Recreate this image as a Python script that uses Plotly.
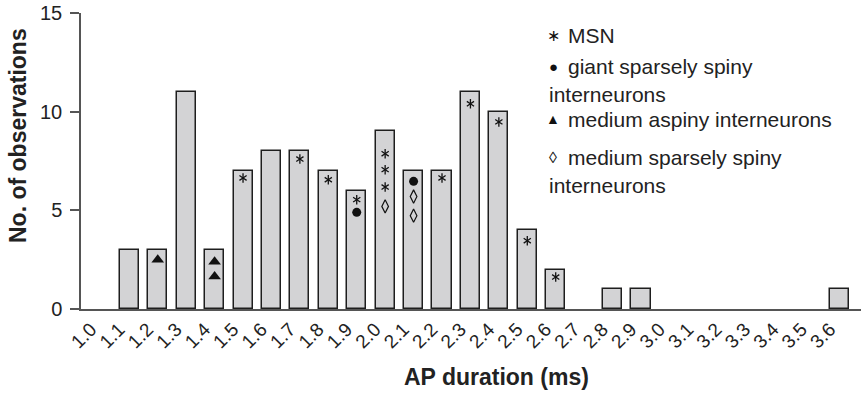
import plotly.graph_objects as go

# ---- data ----
categories = ["1.0", "1.1", "1.2", "1.3", "1.4", "1.5", "1.6", "1.7", "1.8", "1.9",
              "2.0", "2.1", "2.2", "2.3", "2.4", "2.5", "2.6", "2.7", "2.8", "2.9",
              "3.0", "3.1", "3.2", "3.3", "3.4", "3.5", "3.6"]
counts = [0, 3, 3, 11, 3, 7, 8, 8, 7, 6,
          9, 7, 7, 11, 10, 4, 2, 0, 1, 1,
          0, 0, 0, 0, 0, 0, 1]

# cell-type symbols drawn inside bars: (category, height in observations)
msn_cat = ["1.5", "1.7", "1.8", "1.9", "2.0", "2.0", "2.0", "2.2", "2.3", "2.4", "2.5", "2.6"]
msn_y = [6.64, 7.6, 6.55, 5.54, 7.87, 7.06, 6.18, 6.64, 10.4, 9.48, 3.46, 1.62]
giant_cat = ["1.9", "2.1"]
giant_y = [4.9, 6.47]
aspiny_cat = ["1.2", "1.4", "1.4"]
aspiny_y = [2.5, 2.4, 1.65]
sparse_cat = ["2.0", "2.1", "2.1"]
sparse_y = [5.2, 5.7, 4.73]

y_ticks = [0, 5, 10, 15]
x_title = "AP duration (ms)"
y_title = "No. of observations"
legend_lines = [
    ("\u2217", "MSN"),
    ("\u25CF", "giant sparsely spiny"),
    ("", "interneurons"),
    ("\u25B2", "medium aspiny interneurons"),
    ("\u25CA", "medium sparsely spiny"),
    ("", "interneurons"),
]

# ---- build ----
FONT = "Liberation Sans, Arial, Helvetica, sans-serif"
idx = {c: i for i, c in enumerate(categories)}
xpos = list(range(len(categories)))
bar_vals = [v if v > 0 else None for v in counts]

fig = go.Figure()
fig.add_trace(go.Bar(
    x=xpos, y=bar_vals, width=0.67,
    marker=dict(color="#d3d3d5", line=dict(color="#1e1e1e", width=1.5)),
    hoverinfo="skip",
))
# MSN asterisks: six-spoke star built from two overlaid "y" markers
for sym in ("y-up-open", "y-down-open"):
    fig.add_trace(go.Scatter(
        x=[idx[c] for c in msn_cat], y=msn_y, mode="markers",
        marker=dict(symbol=sym, size=6, color="#111",
                    line=dict(color="#111", width=1.3)),
        hoverinfo="skip",
    ))
fig.add_trace(go.Scatter(
    x=[idx[c] for c in giant_cat], y=giant_y, mode="markers",
    marker=dict(symbol="circle", size=9, color="#111"), hoverinfo="skip",
))
fig.add_trace(go.Scatter(
    x=[idx[c] for c in aspiny_cat], y=aspiny_y, mode="markers",
    marker=dict(symbol="triangle-up", size=11, color="#111"), hoverinfo="skip",
))
fig.add_trace(go.Scatter(
    x=[idx[c] for c in sparse_cat], y=sparse_y, mode="markers",
    marker=dict(symbol="diamond-tall-open", size=9.5, color="#111",
                line=dict(color="#111", width=1.2)), hoverinfo="skip",
))

# legend as text lines (pixel-ish paper coords)
W, H = 861, 394
L, R, T, B = 81, 0, 13, 85
pw, ph = W - L - R, H - T - B

def px(x):
    return (x - L) / pw

def py(y):
    return (H - B - y) / ph

leg_y = [35, 66, 94, 119, 157, 185]
sym_size = {"\u2217": 16, "\u25CF": 15, "\u25B2": 14, "\u25CA": 16}
for (sym, txt), yy in zip(legend_lines, leg_y):
    if sym:
        fig.add_annotation(x=px(553), y=py(yy), xref="paper", yref="paper",
                           text=sym, showarrow=False, xanchor="center", yanchor="middle",
                           font=dict(family=FONT, size=sym_size[sym], color="#111"))
        fig.add_annotation(x=px(566), y=py(yy), xref="paper", yref="paper",
                           text=txt, showarrow=False, xanchor="left", yanchor="middle",
                           font=dict(family=FONT, size=21, color="#222"))
    else:
        fig.add_annotation(x=px(547), y=py(yy), xref="paper", yref="paper",
                           text=txt, showarrow=False, xanchor="left", yanchor="middle",
                           font=dict(family=FONT, size=21, color="#222"))

# axis titles
fig.add_annotation(x=px(496), y=py(377), xref="paper", yref="paper",
                   text="<b>%s</b>" % x_title, showarrow=False,
                   xanchor="center", yanchor="middle",
                   font=dict(family=FONT, size=23, color="#222"))
fig.add_annotation(x=px(18), y=py(136), xref="paper", yref="paper",
                   text="<b>%s</b>" % y_title, showarrow=False, textangle=-90,
                   xanchor="center", yanchor="middle",
                   font=dict(family=FONT, size=23, color="#222"))

fig.update_layout(
    width=W, height=H,
    margin=dict(l=L, r=R, t=T, b=B, autoexpand=False),
    plot_bgcolor="white", paper_bgcolor="white",
    showlegend=False,
    bargap=0,
    font=dict(family=FONT, color="#222"),
    xaxis=dict(
        range=[-0.70, 26.74], automargin=False,
        tickmode="array", tickvals=[i - 0.35 for i in xpos], ticktext=categories,
        tickangle=-45, ticks="", showgrid=False, zeroline=False,
        showline=True, linecolor="#555", linewidth=1.5,
        tickfont=dict(family=FONT, size=19, color="#222"),
    ),
    yaxis=dict(
        range=[0, 15], tickvals=y_ticks, ticks="outside", ticklen=9,
        tickcolor="#555", tickwidth=1.5, automargin=False,
        showgrid=False, zeroline=False,
        showline=True, linecolor="#555", linewidth=1.5,
        tickfont=dict(family=FONT, size=20, color="#222"),
        ticklabelstandoff=4,
    ),
)

fig.write_html("out.html", config={"displayModeBar": False},
               post_script="document.body.style.margin='0';document.body.style.overflow='hidden';")
